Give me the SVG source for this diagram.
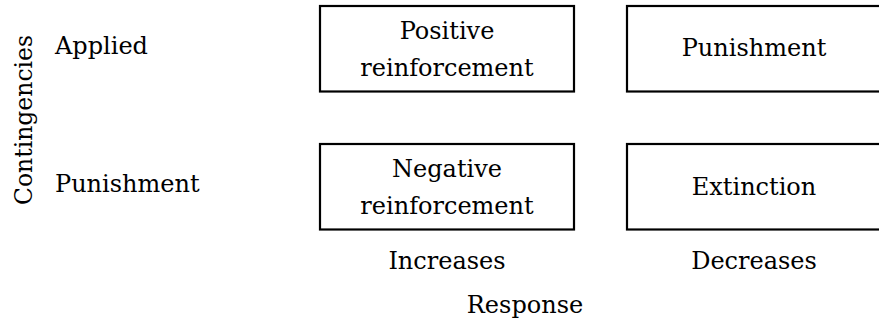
<svg xmlns="http://www.w3.org/2000/svg" width="879" height="325" viewBox="0 0 879 325">
<style>
text{font-family:"DejaVu Serif","Liberation Serif",serif;font-size:24px;fill:#000}
.m{text-anchor:middle}
.box{fill:#fff;stroke:#000;stroke-width:2.2}
</style>
<rect width="879" height="325" fill="#fff"/>
<g id="axis-y"><text class="m" style="font-size:23.5px" transform="translate(32,120) rotate(-90)">Contingencies</text></g>
<g id="row-applied"><text x="55" y="54">Applied</text></g>
<g id="row-punishment"><text x="55" y="192">Punishment</text></g>
<g id="positive-reinforcement"><rect class="box" x="320" y="6" width="254" height="85.5"/><text class="m" x="447" y="39">Positive</text><text class="m" x="447" y="76">reinforcement</text></g>
<g id="punishment"><rect class="box" x="627" y="6" width="254" height="85.5"/><text class="m" x="754" y="56">Punishment</text></g>
<g id="negative-reinforcement"><rect class="box" x="320" y="144" width="254" height="85.5"/><text class="m" x="447" y="177">Negative</text><text class="m" x="447" y="214">reinforcement</text></g>
<g id="extinction"><rect class="box" x="627" y="144" width="254" height="85.5"/><text class="m" x="754" y="195">Extinction</text></g>
<g id="col-increases"><text class="m" x="447" y="269">Increases</text></g>
<g id="col-decreases"><text class="m" x="754" y="269">Decreases</text></g>
<g id="axis-x"><text class="m" x="525" y="313">Response</text></g>
<g id="connectors"/>
</svg>
